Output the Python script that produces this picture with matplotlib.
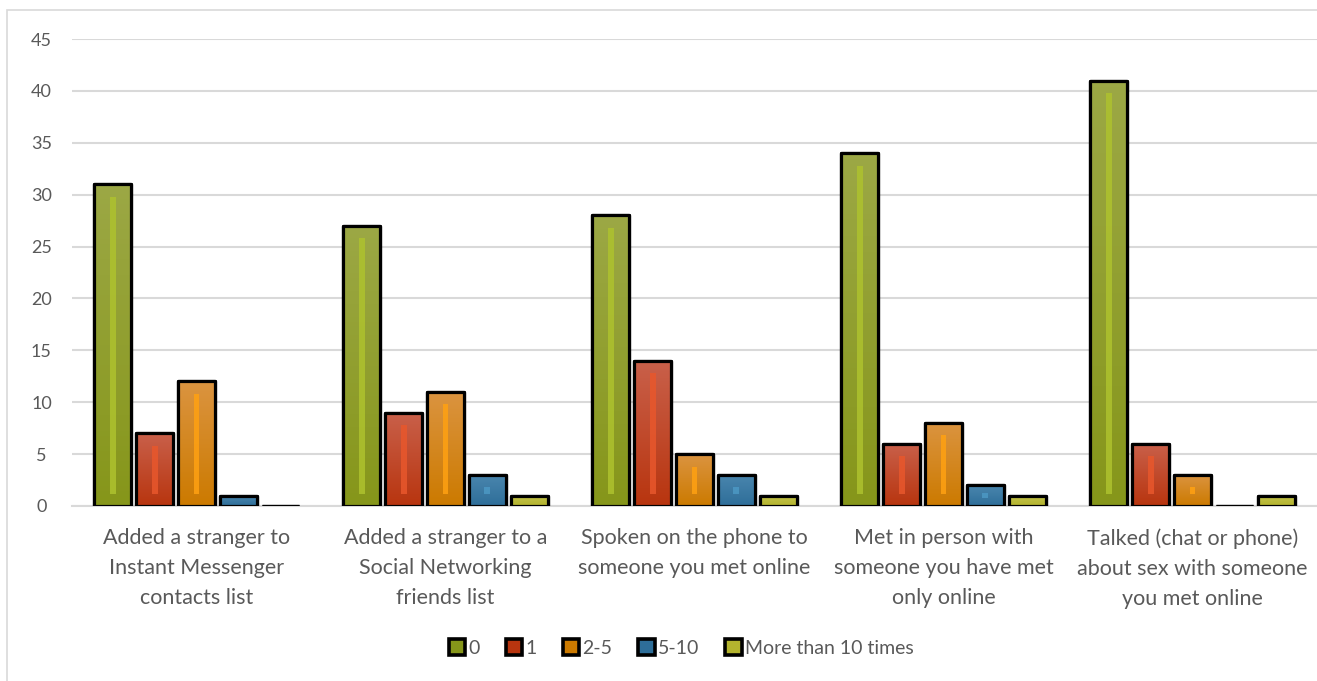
import numpy as np
import matplotlib.pyplot as plt
from matplotlib.patches import Rectangle, Patch
from matplotlib.colors import to_rgb

# data
categories = [
    "Added a stranger to\nInstant Messenger\ncontacts list",
    "Added a stranger to a\nSocial Networking\nfriends list",
    "Spoken on the phone to\nsomeone you met online",
    "Met in person with\nsomeone you have met\nonly online",
    "Talked (chat or phone)\nabout sex with someone\nyou met online",
]
series_names = ["0", "1", "2-5", "5-10", "More than 10 times"]
times_0 = [31, 27, 28, 34, 41]
times_1 = [7, 9, 14, 6, 6]
times_2_5 = [12, 11, 5, 8, 3]
times_5_10 = [1, 3, 3, 2, 0]
times_10_plus = [0, 1, 1, 1, 1]
all_series = [times_0, times_1, times_2_5, times_5_10, times_10_plus]

# (top colour, bottom colour, stripe colour)
colours = [
    ("#9CA845", "#86961A", "#AEC22E"),
    ("#C9604A", "#B8350F", "#E8572C"),
    ("#DB9440", "#CC7A00", "#FFA112"),
    ("#4A86AE", "#2E6E99", "#4C98C4"),
    ("#C2C24A", "#B4B42E", "#C8C83C"),
]
text_col = "#595959"

plt.rcParams['font.family'] = ['Lato', 'DejaVu Sans']

fig = plt.figure(figsize=(13.17, 6.81), dpi=100)
W, H = 1317, 681
ax = fig.add_axes([72 / W, 1 - 506 / H, (1317 - 72) / W, (506 - 39) / H])

# outer chart frame
fig.patches.append(Rectangle((7 / W, -0.05), 1.2, 1 - 10 / H + 0.05, transform=fig.transFigure,
                             fill=False, edgecolor="#D9D9D9", linewidth=1.2, zorder=0))

x = np.arange(len(categories))
pitch = 0.168
width = 0.148
grad = np.linspace(0, 1, 64).reshape(-1, 1)

for i, vals in enumerate(all_series):
    top, bottom, stripe = colours[i]
    pos = x + (i - 2) * pitch
    bars = ax.bar(pos, vals, width, color=bottom, edgecolor="black", linewidth=2.3,
                  joinstyle="round", zorder=4)
    t, b = np.array(to_rgb(top)), np.array(to_rgb(bottom))
    img = b[None, None, :] * (1 - grad[:, :, None]) + t[None, None, :] * grad[:, :, None]
    for bar, h in zip(bars, vals):
        if h <= 0:
            continue
        bx = bar.get_x()
        bw = bar.get_width()
        im = ax.imshow(img, extent=[bx, bx + bw, 0, h], origin="lower", aspect="auto", zorder=4.5)
        im.set_clip_path(bar)
        # lighter stripe in the middle of the bar
        if h > 2.6:
            s0, s1 = 1.2, h - 1.2
        elif h >= 2:
            s0, s1 = h / 2 - 0.25, h / 2 + 0.25
        else:
            continue
        ax.add_patch(Rectangle((bx + bw / 2 - 0.012, s0), 0.024, s1 - s0, facecolor=stripe,
                               edgecolor="none", alpha=0.85, zorder=5))
    # redraw the outline above the gradient
    ax.bar(pos, vals, width, color="none", edgecolor="black", linewidth=2.3,
           joinstyle="round", zorder=6)

ax.set_xlim(-0.5, 4.5)
ax.set_ylim(0, 45)
ax.set_yticks(range(0, 46, 5))
ax.yaxis.grid(True, color="#D9D9D9", linewidth=1.5, zorder=0)
ax.set_axisbelow(True)
for s in ["top", "right", "left"]:
    ax.spines[s].set_visible(False)
ax.spines["bottom"].set_color("#D9D9D9")
ax.spines["bottom"].set_linewidth(1.5)
ax.tick_params(axis="both", length=0, labelsize=13, colors=text_col)
ax.tick_params(axis="x", pad=16)
ax.tick_params(axis="y", pad=22)
ax.set_xticks(x)
ax.set_xticklabels(categories, fontsize=15.5, color=text_col, linespacing=1.62)
for lab in ax.get_yticklabels():
    lab.set_horizontalalignment("center")

handles = [Patch(facecolor=c[1], edgecolor="black", linewidth=2.6) for c in colours]
fig.legend(handles, series_names, loc="center", bbox_to_anchor=(681 / W, 1 - 648 / H),
           ncol=5, frameon=False, fontsize=14, handlelength=0.85, handleheight=0.85,
           handletextpad=0.15, columnspacing=1.35, labelcolor=text_col)

fig.savefig("out.png", dpi=100, facecolor="white")
